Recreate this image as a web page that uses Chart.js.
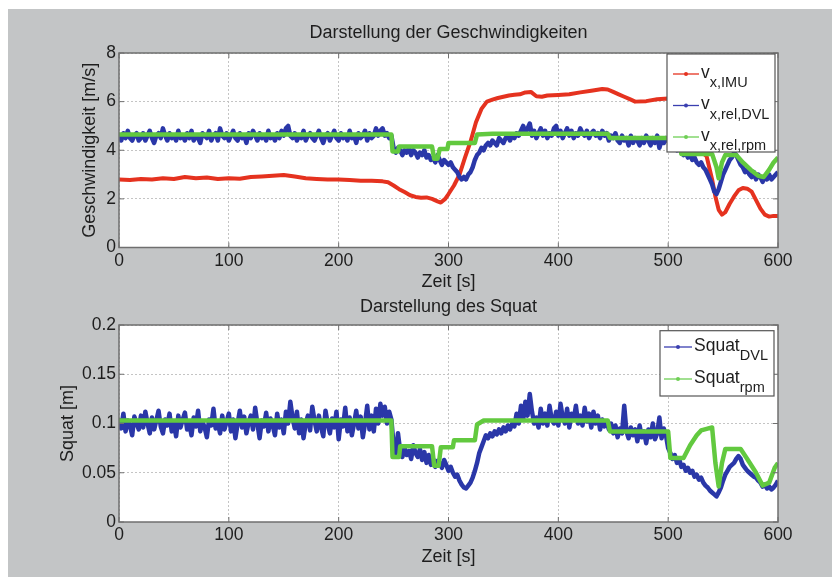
<!DOCTYPE html>
<html>
<head>
<meta charset="utf-8">
<script src="https://cdn.jsdelivr.net/npm/chart.js@4.4.1/dist/chart.umd.min.js"></script>
<style>
  html, body { margin: 0; padding: 0; background: #fff; }
  #fig { position: absolute; left: 8px; top: 9px; width: 824px; height: 568px; background: #c3c5c6; }
  canvas { position: absolute; left: 0; }
  #speedChart { top: 0; }
  #squatChart { top: 295px; }
</style>
</head>
<body>
<div id="fig"></div>
<canvas id="speedChart" width="832" height="295"></canvas>
<canvas id="squatChart" width="832" height="282"></canvas>
<script>
// Messfahrt: Geschwindigkeiten und Squat über der Zeit
const xTicks = [0, 100, 200, 300, 400, 500, 600];
const dvlStep = 2; // DVL-Abtastung [s]

// v_x,IMU [m/s]
const vxImuTime = [0, 10, 20, 30, 40, 50, 60, 70, 80, 90, 100, 110, 120, 130, 140, 150, 160, 170, 180, 190,
  200, 210, 220, 230, 240, 245, 250, 255, 260, 265, 270, 275, 280, 285, 290, 293, 297, 300, 305, 310,
  315, 320, 325, 330, 335, 340, 345, 350, 355, 360, 365, 370, 375, 380, 385, 390, 400, 410, 420, 430,
  440, 445, 450, 455, 460, 465, 470, 480, 490, 500, 505, 510, 515, 520, 525, 530, 535, 540, 543, 546,
  549, 552, 556, 560, 564, 568, 572, 576, 580, 584, 588, 592, 596, 600];
const vxImu = [2.8, 2.78, 2.82, 2.8, 2.85, 2.82, 2.9, 2.85, 2.88, 2.82, 2.85, 2.83, 2.9, 2.92, 2.95, 2.98, 2.92, 2.85, 2.82, 2.8,
  2.8, 2.78, 2.75, 2.75, 2.72, 2.68, 2.55, 2.4, 2.28, 2.15, 2.08, 2.05, 2.06, 2.0, 1.9, 1.85, 2.0, 2.2, 2.55, 3.0,
  3.7, 4.35, 5.15, 5.7, 6.0, 6.08, 6.15, 6.2, 6.25, 6.28, 6.3, 6.38, 6.4, 6.22, 6.2, 6.25, 6.27, 6.3, 6.38, 6.45,
  6.52, 6.5, 6.4, 6.3, 6.2, 6.1, 6.0, 6.02, 6.1, 6.13, 6.1, 6.0, 5.6, 4.8, 4.2, 3.95, 3.75, 2.8, 2.1, 1.55,
  1.35, 1.45, 1.8, 2.1, 2.35, 2.45, 2.42, 2.3, 1.95, 1.6, 1.35, 1.27, 1.3, 1.3];

// v_x,rel,DVL [m/s], alle 2 s (eine Zeile = 20 s)
const vxDvl = [
  4.6, 4.4, 4.7, 4.5, 4.8, 4.5, 4.4, 4.6, 4.7, 4.4,
  4.5, 4.7, 4.4, 4.6, 4.8, 4.5, 4.3, 4.6, 4.7, 4.5,
  4.9, 4.6, 4.4, 4.7, 4.5, 4.6, 4.4, 4.8, 4.5, 4.6,
  4.4, 4.7, 4.5, 4.8, 4.4, 4.6, 4.5, 4.3, 4.7, 4.6,
  4.5, 4.8, 4.4, 4.6, 4.7, 4.4, 4.9, 4.6, 4.5, 4.7,
  4.4, 4.6, 4.8, 4.5, 4.4, 4.7, 4.5, 4.6, 4.3, 4.7,
  4.5, 4.8, 4.6, 4.4, 4.7, 4.5, 4.6, 4.4, 4.8, 4.5,
  4.6, 4.4, 4.7, 4.5, 4.8, 4.6, 4.9, 5.0, 4.6, 4.5,
  4.7, 4.4, 4.6, 4.5, 4.8, 4.4, 4.6, 4.7, 4.5, 4.4,
  4.6, 4.8, 4.5, 4.3, 4.6, 4.7, 4.4, 4.6, 4.8, 4.5,
  4.4, 4.7, 4.5, 4.6, 4.4, 4.8, 4.5, 4.6, 4.3, 4.7,
  4.5, 4.6, 4.8, 4.4, 4.7, 4.5, 4.6, 4.9, 4.6, 4.8,
  4.9, 4.6, 4.7, 4.5, 4.6, 4.1, 3.9, 4.1, 4.0, 3.8,
  4.0, 3.9, 4.1, 3.8, 4.0, 3.9, 3.7, 3.9, 3.8, 4.0,
  3.7, 3.8, 3.6, 3.7, 3.5, 3.8, 3.6, 3.4, 3.6, 3.5,
  3.4, 3.5, 3.3, 3.2, 3.1, 2.9, 2.8, 2.9, 2.8, 3.0,
  3.1, 3.3, 3.6, 3.8, 3.9, 4.1, 4.0, 4.2, 4.3, 4.2,
  4.4, 4.3, 4.2, 4.5, 4.4, 4.3, 4.5, 4.6, 4.4, 4.6,
  4.5, 4.7, 4.6, 4.8, 5.0, 4.7, 4.9, 5.1, 4.6, 4.8,
  4.5, 4.7, 4.9, 4.6, 4.8, 4.5, 4.7, 4.6, 4.9, 5.0,
  4.6, 4.8, 4.5, 4.7, 4.9, 4.6, 4.8, 4.5, 4.7, 4.6,
  4.9, 4.7, 4.6, 4.8, 4.5, 4.7, 4.8, 4.6, 4.7, 4.5,
  4.8, 4.6, 4.7, 4.4, 4.6, 4.5, 4.7, 4.4, 4.3, 4.6,
  4.4, 4.5, 4.2, 4.6, 4.3, 4.5, 4.4, 4.2, 4.5, 4.3,
  4.6, 4.4, 4.2, 4.5, 4.3, 4.6, 4.1, 4.4, 4.3, 4.5,
  4.4, 4.2, 4.3, 4.1, 4.0, 4.1, 3.9, 3.8, 3.9, 3.7,
  3.8, 3.6, 3.7, 3.5, 3.4, 3.5, 3.3, 3.2, 3.0, 2.8,
  2.6, 2.3, 2.2, 2.4, 2.7, 3.0, 3.2, 3.4, 3.6, 3.7,
  3.9, 3.8, 3.6, 3.4, 3.3, 3.1, 3.2, 3.0, 2.9, 3.1,
  2.8, 3.0, 2.9, 2.7, 2.9, 2.8, 3.0, 2.8, 2.9, 3.0,
  3.1];

// v_x,rel,rpm [m/s], stufenweise aus der Drehzahl
const vxRpmTime = [0, 248, 249, 254, 255, 285, 287, 290, 292, 299, 300, 324, 326, 340, 445, 447, 500, 510, 512, 540,
  544, 546, 549, 552, 562, 568, 575, 582, 587, 592, 596, 600];
const vxRpm = [4.65, 4.65, 3.95, 3.95, 4.15, 4.15, 3.65, 3.65, 4.05, 4.05, 4.3, 4.3, 4.65, 4.68, 4.68, 4.5, 4.5, 4.4, 3.85, 3.85,
  3.3, 2.85, 3.5, 3.8, 3.8, 3.5, 3.2, 2.95, 2.9, 3.2, 3.5, 3.7];

// Squat_DVL [m], alle 2 s (eine Zeile = 20 s)
const squatDvl = [
  0.105, 0.095, 0.11, 0.092, 0.103, 0.098, 0.088, 0.107, 0.1, 0.094,
  0.108, 0.096, 0.112, 0.1, 0.09, 0.106, 0.094, 0.103, 0.113, 0.097,
  0.09, 0.104, 0.098, 0.11, 0.092, 0.101, 0.087, 0.108, 0.096, 0.104,
  0.111, 0.094, 0.1, 0.088, 0.106, 0.097, 0.113, 0.092, 0.102, 0.096,
  0.086, 0.104, 0.098, 0.115, 0.095, 0.1, 0.09, 0.108, 0.094, 0.102,
  0.11, 0.092, 0.104, 0.085, 0.1, 0.113, 0.096, 0.107, 0.09, 0.101,
  0.108, 0.094, 0.116, 0.1, 0.085, 0.103, 0.097, 0.111, 0.092, 0.105,
  0.098, 0.088, 0.11, 0.096, 0.104, 0.09, 0.112, 0.1, 0.122, 0.106,
  0.095, 0.112, 0.09, 0.104, 0.085, 0.1, 0.108, 0.093, 0.117, 0.103,
  0.092, 0.108, 0.096, 0.087, 0.113, 0.1, 0.09, 0.105, 0.096, 0.112,
  0.084, 0.104, 0.097, 0.116, 0.092, 0.106, 0.088, 0.1, 0.113, 0.095,
  0.107, 0.086, 0.1, 0.118, 0.094, 0.108, 0.092, 0.115, 0.1, 0.12,
  0.108, 0.117, 0.1, 0.112, 0.104, 0.078, 0.07, 0.09, 0.072, 0.066,
  0.075, 0.068, 0.072, 0.064, 0.078, 0.07, 0.066, 0.074, 0.063, 0.071,
  0.06, 0.068, 0.058, 0.064, 0.056, 0.062, 0.06, 0.055, 0.063, 0.058,
  0.052, 0.056, 0.05, 0.046, 0.048, 0.042, 0.038, 0.035, 0.034, 0.037,
  0.04, 0.045, 0.052, 0.06, 0.07, 0.076, 0.082, 0.088, 0.085, 0.09,
  0.087, 0.092, 0.089, 0.094, 0.09, 0.096, 0.092, 0.098, 0.094, 0.1,
  0.097, 0.11, 0.1, 0.118, 0.104, 0.122, 0.108, 0.13, 0.112, 0.1,
  0.106, 0.096, 0.115, 0.1, 0.11, 0.098, 0.118, 0.104, 0.1, 0.112,
  0.098, 0.12, 0.106, 0.1, 0.115, 0.096, 0.11, 0.104, 0.118, 0.1,
  0.108, 0.098, 0.116, 0.102, 0.11, 0.096, 0.112, 0.1, 0.108, 0.094,
  0.104, 0.097, 0.102, 0.094, 0.1, 0.09, 0.098, 0.086, 0.095, 0.09,
  0.118, 0.092, 0.085, 0.096, 0.088, 0.094, 0.082, 0.098, 0.086, 0.092,
  0.08, 0.094, 0.086, 0.1, 0.084, 0.09, 0.106, 0.085, 0.095, 0.088,
  0.075, 0.07, 0.064, 0.068, 0.06, 0.064, 0.056, 0.058, 0.052, 0.055,
  0.05, 0.052, 0.046, 0.048, 0.043, 0.045, 0.04, 0.037, 0.035, 0.032,
  0.03, 0.028, 0.026, 0.03, 0.035, 0.042, 0.048, 0.052, 0.056, 0.058,
  0.06, 0.064, 0.067, 0.064, 0.058, 0.055, 0.052, 0.05, 0.048, 0.046,
  0.045, 0.042, 0.04, 0.036, 0.038, 0.034, 0.036, 0.033, 0.035, 0.038,
  0.042];

// Squat_rpm [m]
const squatRpmTime = [0, 248, 249, 255, 256, 285, 287, 291, 293, 304, 305, 324, 326, 332, 445, 447, 500, 502, 514, 520,
  526, 530, 540, 543, 546, 549, 552, 566, 572, 580, 586, 592, 597, 600];
const squatRpm = [0.103, 0.103, 0.066, 0.066, 0.077, 0.077, 0.057, 0.057, 0.076, 0.076, 0.083, 0.083, 0.099, 0.103, 0.103, 0.092, 0.092, 0.065, 0.065, 0.078,
  0.088, 0.093, 0.096, 0.06, 0.036, 0.06, 0.074, 0.074, 0.064, 0.05, 0.037, 0.04, 0.055, 0.06];

const RED = '#e5321f';
const BLUE = '#2a37a8';
const GREEN = '#62c93f';
const FONT = '"Liberation Sans", Arial, sans-serif';
const TEXT = '#1e1e1e';

const toPoints = (times, values) => values.map((v, i) => ({ x: times[i], y: v }));
const everyStep = (values, step) => values.map((v, i) => ({ x: i * step, y: v }));

// weißer Achsenhintergrund, Rahmen mit Innenticks und Legende wie in MATLAB
const matlabAxes = {
  id: 'matlabAxes',
  beforeDraw(chart) {
    const { ctx, chartArea: a } = chart;
    ctx.save();
    ctx.fillStyle = '#fff';
    ctx.fillRect(a.left, a.top, a.right - a.left, a.bottom - a.top);
    ctx.restore();
  },
  afterDatasetsDraw(chart, args, opts) {
    const { ctx, chartArea: a, scales } = chart;
    ctx.save();
    ctx.strokeStyle = '#6f6f6f';
    ctx.lineWidth = 1.5;
    ctx.strokeRect(a.left, a.top, a.right - a.left, a.bottom - a.top);
    ctx.lineWidth = 1;
    ctx.beginPath();
    scales.x.ticks.forEach(t => {
      const px = scales.x.getPixelForValue(t.value);
      ctx.moveTo(px, a.bottom); ctx.lineTo(px, a.bottom - 5);
      ctx.moveTo(px, a.top); ctx.lineTo(px, a.top + 5);
    });
    scales.y.ticks.forEach(t => {
      const py = scales.y.getPixelForValue(t.value);
      ctx.moveTo(a.left, py); ctx.lineTo(a.left + 5, py);
      ctx.moveTo(a.right, py); ctx.lineTo(a.right - 5, py);
    });
    ctx.stroke();

    // Legende
    const b = opts.box;
    ctx.fillStyle = '#fff';
    ctx.fillRect(b.left, b.top, b.right - b.left, b.bottom - b.top);
    ctx.strokeStyle = '#555';
    ctx.lineWidth = 1.2;
    ctx.strokeRect(b.left, b.top, b.right - b.left, b.bottom - b.top);
    opts.entries.forEach((e, i) => {
      const y = b.top + opts.firstRow + i * opts.rowGap;
      const x0 = b.left + opts.lineFrom, x1 = b.left + opts.lineTo;
      ctx.strokeStyle = e.color;
      ctx.lineWidth = 1.3;
      ctx.beginPath();
      ctx.moveTo(x0, y); ctx.lineTo(x1, y);
      ctx.stroke();
      ctx.fillStyle = e.color;
      ctx.beginPath();
      ctx.arc((x0 + x1) / 2, y, 2, 0, Math.PI * 2);
      ctx.fill();
      ctx.fillStyle = TEXT;
      ctx.textBaseline = 'alphabetic';
      ctx.textAlign = 'left';
      ctx.font = '17.5px ' + FONT;
      const tx = x1 + 2;
      ctx.fillText(e.main, tx, y + 3.5);
      const w = ctx.measureText(e.main).width;
      ctx.font = '14.5px ' + FONT;
      ctx.fillText(e.sub, tx + w, y + 13);
    });
    ctx.restore();
  }
};

function lineSet(label, data, color, order, width) {
  return {
    label, data, order,
    borderColor: color,
    backgroundColor: color,
    borderWidth: width,
    borderJoinStyle: 'round',
    pointRadius: 0,
    tension: 0,
    clip: 0
  };
}

function axesOptions(cfg) {
  return {
    responsive: false,
    animation: false,
    events: [],
    layout: { autoPadding: false, padding: { left: 0, top: 0, right: 54, bottom: 0 } },
    plugins: {
      legend: { display: false },
      tooltip: { enabled: false },
      title: {
        display: true,
        fullSize: false,
        text: cfg.title,
        color: TEXT,
        font: { family: FONT, size: 18, weight: 'normal' },
        padding: cfg.titlePadding
      },
      matlabAxes: cfg.legend
    },
    scales: {
      x: {
        type: 'linear',
        min: 0, max: 600,
        afterBuildTicks: s => { s.ticks = xTicks.map(v => ({ value: v })); },
        afterFit: s => { s.height = cfg.xHeight; },
        ticks: { color: TEXT, font: { family: FONT, size: 17.5 }, padding: 3, maxRotation: 0 },
        grid: { color: '#c4c4c4', lineWidth: 1, drawTicks: false, borderDash: [2, 2] },
        border: { display: false, dash: [2, 2] },
        title: {
          display: true, text: 'Zeit [s]', color: TEXT,
          font: { family: FONT, size: 18 },
          padding: { top: 0, bottom: cfg.xTitleBottom }
        }
      },
      y: {
        min: 0, max: cfg.yMax,
        afterBuildTicks: s => { s.ticks = cfg.yTicks.map(v => ({ value: v })); },
        afterFit: s => { s.width = 119; },
        ticks: { color: TEXT, font: { family: FONT, size: 17.5 }, padding: 3, callback: v => String(+v.toFixed(2)) },
        grid: { color: '#c4c4c4', lineWidth: 1, drawTicks: false, borderDash: [2, 2] },
        border: { display: false, dash: [2, 2] },
        title: {
          display: true, text: cfg.yTitle, color: TEXT,
          font: { family: FONT, size: 18 },
          padding: { top: cfg.yTitleTop, bottom: 0 }
        }
      }
    }
  };
}

new Chart(document.getElementById('speedChart'), {
  type: 'line',
  data: {
    datasets: [
      lineSet('v_x,IMU', toPoints(vxImuTime, vxImu), RED, 3, 4),
      lineSet('v_x,rel,DVL', everyStep(vxDvl, dvlStep), BLUE, 2, 4.5),
      lineSet('v_x,rel,rpm', toPoints(vxRpmTime, vxRpm), GREEN, 1, 4.5)
    ]
  },
  options: axesOptions({
    title: 'Darstellung der Geschwindigkeiten',
    titlePadding: { top: 22.7, bottom: 8.7 },
    xHeight: 47.5,
    xTitleBottom: 2.5,
    yMax: 8,
    yTicks: [0, 2, 4, 6, 8],
    yTitle: 'Geschwindigkeit [m/s]',
    yTitleTop: 79,
    legend: {
      box: { left: 667, top: 54, right: 775, bottom: 152 },
      firstRow: 20, rowGap: 31.5, lineFrom: 6, lineTo: 32,
      entries: [
        { main: 'v', sub: 'x,IMU', color: RED },
        { main: 'v', sub: 'x,rel,DVL', color: '#3a3fb0' },
        { main: 'v', sub: 'x,rel,rpm', color: '#6fcf55' }
      ]
    }
  }),
  plugins: [matlabAxes]
});

new Chart(document.getElementById('squatChart'), {
  type: 'line',
  data: {
    datasets: [
      lineSet('Squat_DVL', everyStep(squatDvl, dvlStep), BLUE, 2, 4.5),
      lineSet('Squat_rpm', toPoints(squatRpmTime, squatRpm), GREEN, 1, 4.5)
    ]
  },
  options: axesOptions({
    title: 'Darstellung des Squat',
    titlePadding: { top: 1.2, bottom: 7.2 },
    xHeight: 55,
    xTitleBottom: 9,
    yMax: 0.2,
    yTicks: [0, 0.05, 0.1, 0.15, 0.2],
    yTitle: 'Squat [m]',
    yTitleTop: 57,
    legend: {
      box: { left: 660, top: 35.7, right: 774, bottom: 101 },
      firstRow: 16.3, rowGap: 32, lineFrom: 4, lineTo: 32,
      entries: [
        { main: 'Squat', sub: 'DVL', color: '#3a3fb0' },
        { main: 'Squat', sub: 'rpm', color: '#6fcf55' }
      ]
    }
  }),
  plugins: [matlabAxes]
});
</script>
</body>
</html>
